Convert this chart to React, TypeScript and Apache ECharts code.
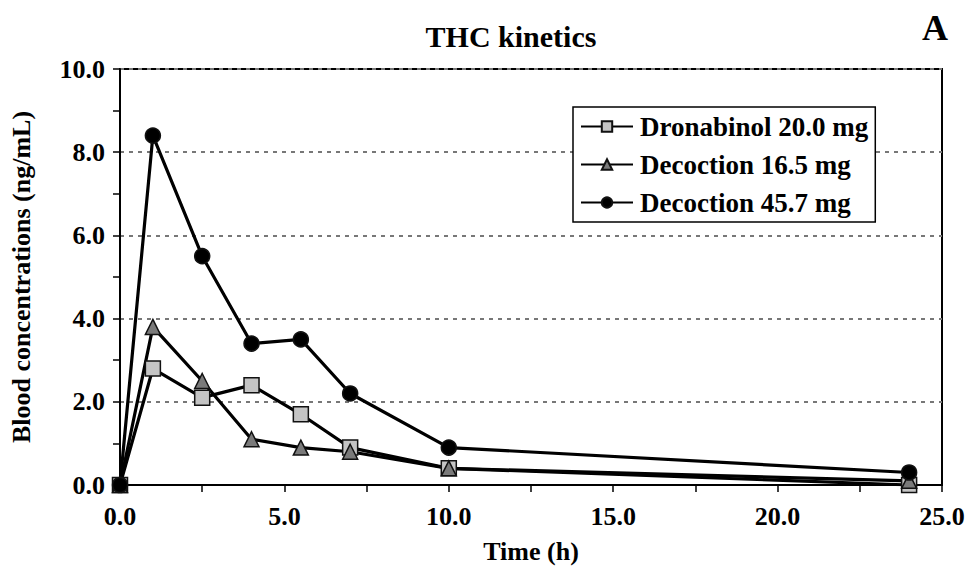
import React, { useEffect, useRef } from "react";
import * as echarts from "echarts";

const times = [0, 1, 2.5, 4, 5.5, 7, 10, 24];
const dronabinol = [0.0, 2.8, 2.1, 2.4, 1.7, 0.9, 0.4, 0.0];
const decoction165 = [0.0, 3.8, 2.5, 1.1, 0.9, 0.8, 0.4, 0.1];
const decoction457 = [0.0, 8.4, 5.5, 3.4, 3.5, 2.2, 0.9, 0.3];
const seriesNames = ["Dronabinol 20.0 mg", "Decoction 16.5 mg", "Decoction 45.7 mg"];

const FONT = "'Liberation Serif', 'Times New Roman', serif";

const pairs = (ys: number[]) => times.map((t, i) => [t, ys[i]]);

export default function App() {
  const ref = useRef<HTMLDivElement>(null);
  useEffect(() => {
    if (!ref.current) return;
    const chart = echarts.init(ref.current, undefined, { renderer: "svg" });
    const mk = (name: string, data: number[], symbol: string, fill: string, size: number) => ({
      name,
      type: "line",
      data: pairs(data),
      symbol,
      symbolSize: size,
      lineStyle: { color: "#000", width: 3.2 },
      itemStyle: { color: fill, borderColor: "#111", borderWidth: 1.5 },
      emphasis: { disabled: true },
    });
    chart.setOption({
      animation: false,
      backgroundColor: "#fff",
      title: [
        {
          text: "THC kinetics",
          left: 506,
          top: 16,
          textAlign: "center",
          textStyle: { fontFamily: FONT, fontWeight: "bold", fontSize: 30, color: "#000" },
        },
        {
          text: "A",
          left: 917,
          top: 5,
          textStyle: { fontFamily: FONT, fontWeight: "bold", fontSize: 36, color: "#000" },
        },
      ],
      legend: {
        left: 573,
        top: 107,
        orient: "vertical",
        itemGap: 11,
        itemWidth: 52,
        itemHeight: 13,
        padding: [6, 7, 6, 7],
        borderColor: "#000",
        borderWidth: 1.5,
        backgroundColor: "#fff",
        data: seriesNames,
        textStyle: { fontFamily: FONT, fontWeight: "bold", fontSize: 27, color: "#000", padding: [0, 0, 0, 2] },
      },
      grid: { left: 119, right: 28, top: 69, bottom: 82, show: true, borderColor: "#000", borderWidth: 2 },
      xAxis: {
        type: "value",
        min: 0,
        max: 25,
        interval: 5,
        name: "Time (h)",
        nameLocation: "middle",
        nameGap: 53,
        nameTextStyle: { fontFamily: FONT, fontWeight: "bold", fontSize: 26, color: "#000" },
        axisLine: { lineStyle: { color: "#000", width: 2 } },
        axisTick: { length: 7, lineStyle: { color: "#000", width: 1.5 } },
        minorTick: { show: true, splitNumber: 2, length: 7, lineStyle: { color: "#000", width: 1.5 } },
        splitLine: { show: false },
        axisLabel: {
          margin: 18,
          formatter: (v: number) => v.toFixed(1),
          fontFamily: FONT,
          fontWeight: "bold",
          fontSize: 26,
          color: "#000",
        },
      },
      yAxis: {
        type: "value",
        min: 0,
        max: 10,
        interval: 2,
        name: "Blood concentrations (ng/mL)",
        nameLocation: "middle",
        nameGap: 86,
        nameTextStyle: { fontFamily: FONT, fontWeight: "bold", fontSize: 26, color: "#000" },
        axisLine: { show: true, lineStyle: { color: "#000", width: 2 } },
        axisTick: { show: true, length: 7, lineStyle: { color: "#000", width: 1.5 } },
        minorTick: { show: true, splitNumber: 2, length: 7, lineStyle: { color: "#000", width: 1.5 } },
        splitLine: { show: true, lineStyle: { color: "#777", width: 2, type: [4, 5] } },
        axisLabel: {
          margin: 15,
          formatter: (v: number) => v.toFixed(1),
          fontFamily: FONT,
          fontWeight: "bold",
          fontSize: 26,
          color: "#000",
        },
      },
      series: [
        mk(seriesNames[0], dronabinol, "rect", "#c4c4c4", 15),
        mk(seriesNames[1], decoction165, "triangle", "#7a7a7a", 15),
        mk(seriesNames[2], decoction457, "circle", "#000", 15),
      ],
    });
    return () => chart.dispose();
  }, []);
  return <div ref={ref} style={{ position: "absolute", left: 0, top: 0, width: 970, height: 569 }} />;
}
